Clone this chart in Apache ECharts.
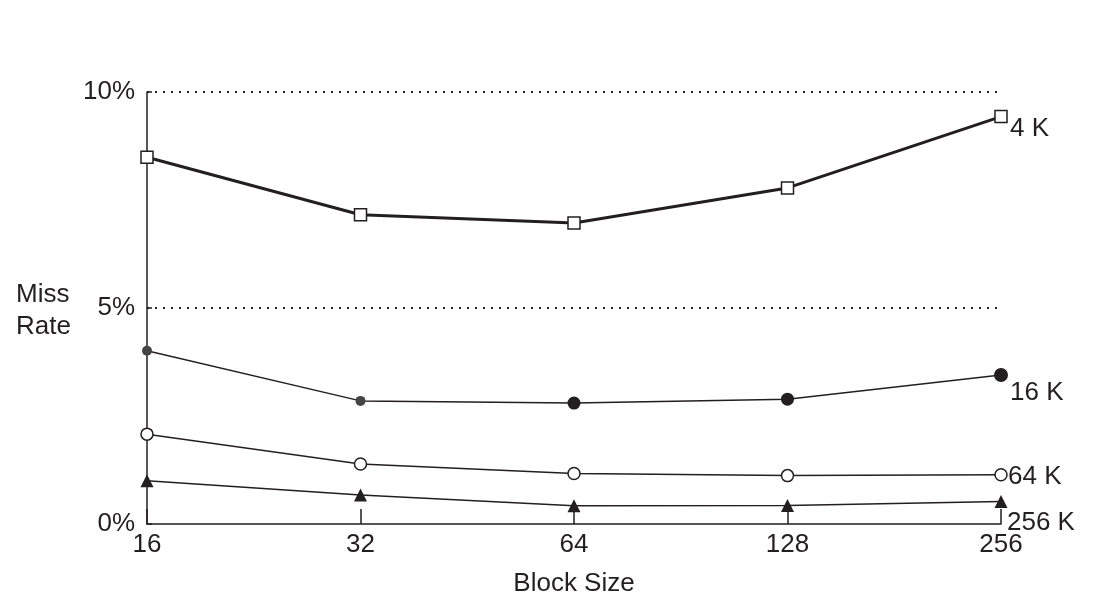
<!DOCTYPE html>
<html>
<head>
<meta charset="utf-8">
<script src="https://cdn.jsdelivr.net/npm/echarts@6/dist/echarts.min.js"></script>
<style>
html,body{margin:0;padding:0;background:#fff;}
#chart{width:1102px;height:604px;}
</style>
</head>
<body>
<div id="chart"></div>
<script>
const blockSizes = ['16', '32', '64', '128', '256'];
const seriesNames = ['4 K', '16 K', '64 K', '256 K'];
const miss4K   = [8.49, 7.16, 6.97, 7.78, 9.43];
const miss16K  = [4.01, 2.85, 2.80, 2.89, 3.45];
const miss64K  = [2.08, 1.39, 1.17, 1.12, 1.14];
const miss256K = [1.00, 0.67, 0.42, 0.43, 0.52];
const yTicks = [0, 5, 10];

const ink = '#231f20';
const font = '"Liberation Sans", Arial, Helvetica, sans-serif';
const fs = 26;

const chart = echarts.init(document.getElementById('chart'), null, {renderer: 'canvas'});

function endLabel(dx, dy) {
  return {
    show: true,
    formatter: '{a}',
    color: ink,
    fontFamily: font,
    fontSize: fs,
    distance: 0,
    offset: [dx, dy]
  };
}

const option = {
  backgroundColor: '#fff',
  animation: false,
  textStyle: {fontFamily: font},
  grid: {left: 147, right: 101, top: 92, bottom: 80, containLabel: false},
  xAxis: {
    type: 'category',
    data: blockSizes,
    boundaryGap: false,
    name: 'Block Size',
    nameLocation: 'middle',
    nameGap: 47,
    nameTextStyle: {color: ink, fontSize: fs, fontFamily: font},
    axisLine: {show: true, lineStyle: {color: ink, width: 1.5}},
    axisTick: {show: true, inside: true, length: 15, lineStyle: {color: ink, width: 1.5}},
    axisLabel: {color: ink, fontSize: fs, fontFamily: font, margin: 8},
    splitLine: {show: false}
  },
  yAxis: {
    type: 'value',
    min: yTicks[0],
    max: yTicks[yTicks.length - 1],
    interval: yTicks[1] - yTicks[0],
    axisLine: {show: true, lineStyle: {color: ink, width: 1.5}},
    axisTick: {show: true, inside: true, length: 5, lineStyle: {color: ink, width: 1.5}},
    axisLabel: {color: ink, fontSize: fs, fontFamily: font, margin: 12, formatter: '{value}%'},
    splitLine: {
      show: true,
      showMinLine: false,
      lineStyle: {color: ink, width: 2, type: [2, 6]}
    }
  },
  graphic: [{
    type: 'text',
    left: 16,
    top: 279,
    style: {
      text: 'Miss\nRate',
      fill: ink,
      font: fs + 'px ' + font,
      lineHeight: 32
    }
  }],
  series: [
    {
      name: seriesNames[0],
      type: 'line',
      data: miss4K,
      symbol: 'rect',
      symbolSize: 12,
      showAllSymbol: true,
      lineStyle: {color: ink, width: 3},
      itemStyle: {color: '#fff', borderColor: ink, borderWidth: 1.5},
      endLabel: endLabel(9, 12),
      z: 5
    },
    {
      name: seriesNames[1],
      type: 'line',
      data: miss16K,
      symbol: 'circle',
      symbolSize: function (v, p) { return [10, 10, 13, 13, 14][p.dataIndex]; },
      lineStyle: {color: ink, width: 1.5},
      itemStyle: {
        color: function (p) { return p.dataIndex < 2 ? '#444' : ink; },
        borderWidth: 0
      },
      endLabel: endLabel(9, 18),
      z: 5
    },
    {
      name: seriesNames[2],
      type: 'line',
      data: miss64K,
      symbol: 'circle',
      symbolSize: 12,
      lineStyle: {color: ink, width: 1.5},
      itemStyle: {color: '#fff', borderColor: ink, borderWidth: 1.5},
      endLabel: endLabel(7, 2),
      z: 5
    },
    {
      name: seriesNames[3],
      type: 'line',
      data: miss256K,
      symbol: 'triangle',
      symbolSize: 13,
      lineStyle: {color: ink, width: 1.5},
      itemStyle: {color: ink, borderWidth: 0},
      endLabel: endLabel(6, 21),
      z: 5
    }
  ]
};
chart.setOption(option);
</script>
</body>
</html>
